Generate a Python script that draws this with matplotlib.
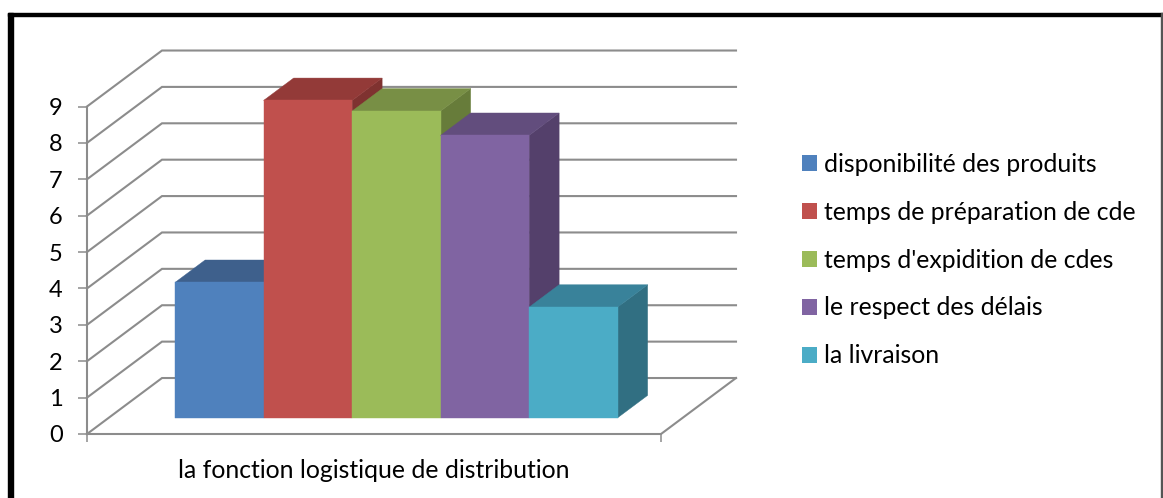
import matplotlib
matplotlib.use('Agg')
import matplotlib.pyplot as plt
from matplotlib.patches import Polygon, Patch, Rectangle

labels = ['disponibilité des produits', 'temps de préparation de cde',
          "temps d'expidition de cdes", 'le respect des délais', 'la livraison']
values = [3.72, 8.72, 8.43, 7.76, 3.04]
front_colors = ['#4F81BD', '#C0504D', '#9BBB59', '#8064A2', '#4BACC6']
top_colors = ['#3E608C', '#933A38', '#788F45', '#624D7D', '#39829A']
side_colors = ['#345073', '#7F3230', '#677C3A', '#54406B', '#316F82']
category = 'la fonction logistique de distribution'
yticks = list(range(10))

W, H = 1163, 498
GRID = '#8C8C8C'

# oblique projection: full depth of the floor in axis units
depth_x = 75 / 88.5
depth_y = 56 / 36.4
bar_front = 0.29
bar_back = 0.69
gap = 0.75
xmax = 574 / 88.5


def proj(x, v, d):
    return x + d * depth_x, v + d * depth_y


def face(ax, pts, color, z):
    ax.add_patch(Polygon([proj(*p) for p in pts], closed=True, facecolor=color,
                         edgecolor=color, linewidth=0.3, clip_on=False, zorder=z))


def draw_bar(ax, x0, v, i):
    x1 = x0 + 1
    z = 5 + i * 0.1
    face(ax, [(x1, 0, bar_front), (x1, 0, bar_back), (x1, v, bar_back), (x1, v, bar_front)], side_colors[i], z)
    face(ax, [(x0, v, bar_front), (x1, v, bar_front), (x1, v, bar_back), (x0, v, bar_back)], top_colors[i], z)
    face(ax, [(x0, 0, bar_front), (x1, 0, bar_front), (x1, v, bar_front), (x0, v, bar_front)], front_colors[i], z)


fig = plt.figure(figsize=(W / 100, H / 100), dpi=100)
plt.rcParams['font.family'] = ['Lato', 'DejaVu Sans']

# black frame around the chart, heavier on the left and top
fig.add_artist(Rectangle((7.5 / W, 0), 5 / W, 1 - 13 / H, transform=fig.transFigure, color='black'))
fig.add_artist(Rectangle((7.5 / W, 1 - 16.5 / H), (1162.5 - 7.5) / W, 3.5 / H, transform=fig.transFigure, color='black'))
fig.add_artist(Rectangle((1161 / W, 0), 1.5 / W, 1 - 13 / H, transform=fig.transFigure, color='#555555'))

ax = fig.add_axes([87 / W, 1 - 434 / H, 574 / W, 327.5 / H])
ax.set_xlim(0, xmax)
ax.set_ylim(0, 9)
for s in ax.spines.values():
    s.set_visible(False)

# side wall, back wall gridlines and floor edges
for v in yticks:
    x, y = zip(proj(0, v, 0), proj(0, v, 1), proj(xmax, v, 1))
    ax.plot(x, y, color=GRID, lw=1.5, clip_on=False, zorder=1, solid_joinstyle='miter')
x, y = zip(proj(xmax, 0, 1), proj(xmax, 0, 0), proj(0, 0, 0))
ax.plot(x, y, color=GRID, lw=1.5, clip_on=False, zorder=1)
ax.plot([0, 0], [0, 9], color=GRID, lw=1.5, clip_on=False, zorder=2)

for i, v in enumerate(values):
    draw_bar(ax, gap + i, v, i)

ax.set_yticks(yticks)
ax.tick_params(axis='y', length=6.5, width=1.1, color=GRID, labelsize=17, pad=11)
ax.set_xticks([0, xmax])
ax.set_xticklabels(['', ''])
ax.set_xticks([xmax / 2], [category], minor=True)
ax.tick_params(axis='x', which='major', length=6, width=1.1, color=GRID)
ax.tick_params(axis='x', which='minor', length=0, labelsize=17.8, pad=18)

handles = [Patch(facecolor=c, label=t) for c, t in zip(front_colors, labels)]
ax.legend(handles=handles, loc='center left', bbox_to_anchor=(802 / W, 1 - 260 / H),
          bbox_transform=fig.transFigure, frameon=False, fontsize=17.8, handlelength=0.6,
          handleheight=0.6, handletextpad=0.3, labelspacing=1.01, borderpad=0, borderaxespad=0)

fig.savefig('out.png', dpi=100)
